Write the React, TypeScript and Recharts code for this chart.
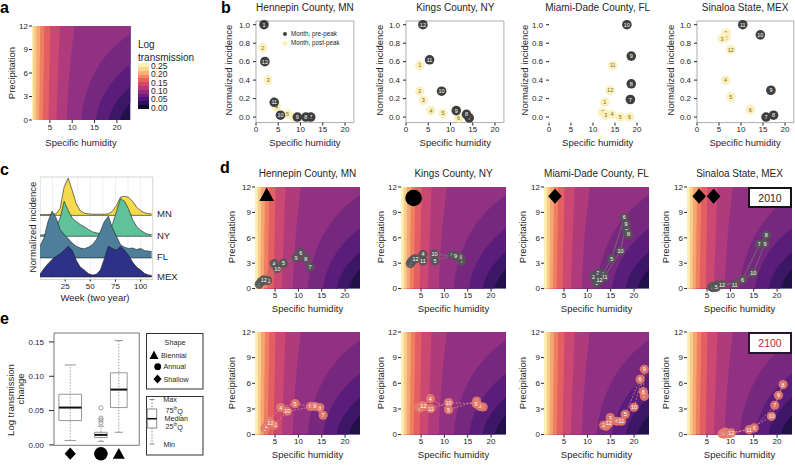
import React from 'react';
import {
  Area,
  CartesianGrid,
  ComposedChart,
  Line,
  ReferenceArea,
  ReferenceLine,
  Scatter,
  ScatterChart,
  XAxis,
  YAxis,
} from 'recharts';

const FONT = "'Liberation Sans', Arial, Helvetica, sans-serif";
const INK = '#262626';

const CONTOUR_P = [0, 1.5, 3, 4.5, 6, 7.5, 9, 10.5, 12];
const C1 = [1.3, 1.3, 1.3, 1.3, 1.3, 1.3, 1.3, 1.3, 1.3];
const C2 = [1.9, 1.9, 1.9, 1.95, 1.95, 2.0, 2.0, 2.0, 2.0];
const C3 = [2.6, 2.6, 2.65, 2.7, 2.7, 2.75, 2.8, 2.8, 2.85];
const C4 = [3.4, 3.45, 3.5, 3.55, 3.6, 3.65, 3.7, 3.7, 3.75];
const C5 = [4.7, 4.75, 4.8, 4.85, 4.9, 4.95, 5.0, 5.05, 5.1];
const C6 = [6.5, 6.55, 6.65, 6.75, 6.85, 6.95, 7.05, 7.15, 7.25];
const C7 = [8.8, 8.9, 9.0, 9.2, 9.4, 9.6, 9.9, 10.2, 10.5];
const C8 = [12.0, 12.3, 12.9, 13.8, 15.0, 16.6, 18.8, 21.8, 26];
const C9 = [15.3, 15.8, 16.9, 18.5, 20.8, 24, 28, 33, 39];
const C10 = [18.2, 19.0, 20.8, 23.5, 27, 32, 38, 45, 52];
const C11 = [20.7, 22.0, 24.5, 28, 33, 39, 46, 54, 62];
const CONTOURS = [C1, C2, C3, C4, C5, C6, C7, C8, C9, C10, C11];
const BANDS = ['#FCEFB2', '#F9CC8C', '#F6A673', '#F07F5F', '#E35F63', '#CB4872', '#AF3B7C', '#923181', '#76287F', '#5A1E7A', '#3E1668', '#221048'];
const CONTOUR_ROWS = CONTOUR_P.map((p, i) => {
  const row: Record<string, number> = { p };
  CONTOURS.forEach((c, k) => (row['c' + k] = c[i]));
  return row;
});

// panel b: [month, specific humidity, normalized incidence, pre-peak?]
const HEN_B = [[1, 1.8, 1.0, 1], [2, 1.5, 0.75, 0], [3, 2.7, 0.4, 0], [4, 4.6, 0.11, 0], [5, 7.1, 0.03, 0], [6, 8.6, 0.0, 0], [7, 12.3, 0.0, 1], [8, 11.2, 0.0, 1], [9, 9.3, 0.0, 1], [10, 5.5, 0.02, 1], [11, 4.1, 0.16, 1], [12, 2.0, 0.6, 1]];
const KIN_B = [[1, 3.1, 0.56, 0], [2, 3.1, 0.28, 0], [3, 3.9, 0.18, 0], [4, 5.6, 0.07, 0], [5, 8.3, 0.04, 0], [6, 11.8, -0.01, 0], [7, 14.2, -0.01, 1], [8, 13.6, 0.03, 1], [9, 11.3, 0.07, 1], [10, 8.0, 0.28, 1], [11, 5.3, 0.62, 1], [12, 3.8, 1.0, 1]];
const MIA_B = [[1, 12.7, 0.16, 0], [2, 12.2, 0.05, 0], [3, 12.9, 0.02, 0], [4, 14.3, 0.03, 0], [5, 16.2, 0.0, 0], [6, 18.3, 0.0, 0], [7, 18.5, 0.19, 1], [8, 18.7, 0.36, 1], [9, 18.7, 0.66, 1], [10, 17.7, 1.0, 1], [11, 14.5, 0.56, 0], [12, 13.9, 0.29, 0]];
const SIN_B = [[1, 6.6, 0.91, 0], [2, 6.6, 0.86, 0], [3, 5.7, 0.85, 0], [4, 6.5, 0.4, 0], [5, 7.7, 0.22, 0], [6, 12.1, 0.08, 0], [7, 15.7, 0.0, 1], [8, 17.4, 0.02, 1], [9, 16.8, 0.29, 1], [10, 14.4, 0.89, 1], [11, 10.4, 1.0, 1], [12, 7.7, 0.73, 0]];

// panel c: weekly incidence over two years
const WEEKS = [0, 4, 8, 12, 16, 20, 24, 28, 32, 36, 40, 44, 48, 52, 56, 60, 64, 68, 72, 76, 80, 84, 88, 92, 96, 100, 104, 108, 111];
const MN = [0.02, 0.02, 0.02, 0.03, 0.04, 0.18, 0.75, 0.98, 0.66, 0.31, 0.12, 0.06, 0.04, 0.03, 0.03, 0.03, 0.03, 0.04, 0.11, 0.26, 0.48, 0.5, 0.48, 0.37, 0.22, 0.12, 0.07, 0.04, 0.04];
const NY = [0.03, 0.04, 0.07, 0.13, 0.24, 0.48, 0.92, 0.68, 0.48, 0.39, 0.31, 0.25, 0.18, 0.12, 0.09, 0.07, 0.09, 0.13, 0.31, 0.66, 0.99, 0.92, 0.72, 0.44, 0.26, 0.16, 0.09, 0.05, 0.04];
const FL = [0.31, 0.53, 0.96, 1.23, 1.05, 0.75, 0.61, 0.51, 0.39, 0.31, 0.26, 0.24, 0.28, 0.35, 0.48, 0.7, 0.96, 1.1, 0.79, 0.57, 0.35, 0.28, 0.25, 0.26, 0.22, 0.25, 0.19, 0.18, 0.16];
const MEX = [0.07, 0.22, 0.35, 0.46, 0.54, 0.61, 0.7, 0.81, 0.7, 0.44, 0.26, 0.18, 0.09, 0.05, 0.07, 0.18, 0.48, 0.81, 0.75, 0.7, 0.81, 0.7, 0.57, 0.39, 0.26, 0.18, 0.09, 0.05, 0.04];
const RIDGES = [
  { key: 'MN', vals: MN, base: 1.69, color: '#F4DA4C' },
  { key: 'NY', vals: NY, base: 1.14, color: '#5FC29A' },
  { key: 'FL', vals: FL, base: 0.57, color: '#4E7F9A' },
  { key: 'MEX', vals: MEX, base: 0.07, color: '#2D3188' },
];
const RIDGE_ROWS = WEEKS.map((w, i) => {
  const row: Record<string, any> = { w };
  RIDGES.forEach((r) => (row[r.key] = [r.base, r.base + r.vals[i]]));
  return row;
});

// panel d: monthly [specific humidity, precipitation], months 1..12
const HEN_10 = [[1.6, 0.5], [2.0, 0.8], [2.5, 1.0], [4.8, 2.95], [6.8, 3.0], [10.5, 4.25], [12.5, 2.55], [11.6, 3.54], [9.5, 3.66], [5.5, 2.36], [3.4, 0.95], [2.6, 1.0]];
const KIN_10 = [[2.7, 2.95], [3.0, 3.2], [3.3, 3.4], [5.4, 4.05], [8.0, 3.26], [11.7, 4.0], [13.7, 3.26], [13.4, 3.7], [12.4, 3.8], [7.9, 4.1], [5.4, 3.26], [3.8, 3.54]];
const MIA_10 = [[12.0, 0.66], [11.3, 1.4], [12.3, 1.85], [13.3, 1.7], [15.2, 3.54], [17.9, 8.4], [18.4, 6.8], [18.8, 6.4], [18.3, 7.6], [17.1, 4.44], [13.7, 1.4], [12.6, 1.0]];
const SIN_10 = [[7.1, 0.4], [6.5, 0.25], [6.0, 0.2], [6.3, 0.1], [7.0, 0.15], [12.6, 1.06], [16.2, 5.23], [17.7, 6.3], [17.4, 5.3], [14.9, 1.85], [10.9, 0.47], [8.2, 0.47]];
const HEN_21 = [[2.85, 0.7], [3.2, 1.0], [3.7, 1.6], [6.2, 3.16], [9.3, 3.62], [12.6, 3.3], [15.3, 2.26], [14.6, 3.16], [13.5, 3.3], [7.6, 2.72], [4.8, 1.1], [4.0, 1.3]];
const KIN_21 = [[4.5, 3.23], [4.8, 3.1], [5.3, 3.4], [7.0, 4.2], [10.9, 2.92], [16.9, 3.93], [18.3, 3.23], [17.6, 3.3], [16.8, 3.6], [10.9, 3.74], [7.1, 3.04], [5.5, 3.3]];
const MIA_21 = [[14.0, 0.97], [13.5, 1.09], [14.9, 1.99], [16.3, 1.56], [18.1, 2.37], [21.3, 6.47], [22.2, 4.48], [22.0, 5.0], [22.2, 7.64], [20.0, 3.2], [17.3, 1.56], [14.6, 1.3]];
const SIN_21 = [[8.9, 0.3], [8.5, 0.15], [8.2, 0.1], [8.8, 0.05], [9.6, 0.1], [15.1, 0.78], [19.5, 3.43], [21.3, 5.85], [20.3, 4.6], [18.8, 2.14], [14.0, 0.58], [10.2, 0.2]];
const HEN_SHAPE = [{ q: 3.2, p: 11.1, kind: 'triangle' }];
const KIN_SHAPE = [{ q: 3.4, p: 10.7, kind: 'circle' }];
const MIA_SHAPE = [{ q: 3.05, p: 10.9, kind: 'diamond' }];
const SIN_SHAPE = [{ q: 3.3, p: 10.9, kind: 'diamond' }, { q: 6.4, p: 10.9, kind: 'diamond' }];

// panel e: log transmission change by seasonal shape
const E_KIND = ['diamond', 'circle', 'triangle'];
const E_MIN = [0.0063, 0.0053, 0.0184];
const E_Q1 = [0.0354, 0.0107, 0.0544];
const E_MED = [0.0544, 0.0146, 0.0806];
const E_Q3 = [0.0738, 0.0184, 0.105];
const E_MAX = [0.1165, 0.0272, 0.152];
const E_OUT = [0.054, 0.039, 0.036, 0.032];
const E_X = [0.19, 0.55, 0.76];
const E_HALF = [0.133, 0.074, 0.098];

type Rect = { x0: number; x1: number; y0: number; y1: number };
const PAD = 4;
const slot = (r: Rect, yw: number, xh: number) => ({
  left: r.x0 - yw,
  top: r.y0 - PAD,
  width: r.x1 - r.x0 + yw + PAD,
  height: r.y1 - r.y0 + PAD + xh,
});

function T({ x, y, size = 9.5, rot = false, align = 'c', color = INK, bold = false, children }: any) {
  const tx = align === 'c' ? '-50%' : align === 'r' ? '-100%' : '0';
  return (
    <div
      style={{
        position: 'absolute', left: x, top: y, transform: `translate(${tx}, -50%)${rot ? ' rotate(-90deg)' : ''}`,
        fontSize: size, color, fontWeight: bold ? 700 : 400, whiteSpace: 'nowrap', lineHeight: 1,
      }}
    >
      {children}
    </div>
  );
}

function Mark({ cx, cy, kind, s = 1 }: { cx: number; cy: number; kind: string; s?: number }) {
  if (kind === 'triangle') return <path d={`M${cx},${cy - 7 * s} L${cx + 7.3 * s},${cy + 6.3 * s} L${cx - 7.3 * s},${cy + 6.3 * s} Z`} fill="#000" />;
  if (kind === 'circle') return <circle cx={cx} cy={cy} r={8.3 * s} fill="#000" />;
  return <path d={`M${cx},${cy - 7.5 * s} L${cx + 6.8 * s},${cy} L${cx},${cy + 7.5 * s} L${cx - 6.8 * s},${cy} Z`} fill="#000" />;
}

const axisTick = { fontSize: 8, fill: INK };

function Heat({ r, xDomain }: { r: Rect; xDomain: [number, number] }) {
  const s = slot(r, 22, 14);
  return (
    <div style={{ position: 'absolute', left: s.left, top: s.top }}>
      <ComposedChart layout="vertical" width={s.width} height={s.height} data={CONTOUR_ROWS} margin={{ top: PAD, right: PAD, left: 0, bottom: 0 }}>
        <CartesianGrid fill={BANDS[11]} horizontal={false} vertical={false} />
        <XAxis type="number" domain={xDomain} allowDataOverflow ticks={[5, 10, 15, 20]} interval={0} height={14} tickSize={3} tickMargin={1} tickLine={{ stroke: INK }} axisLine={false} tick={axisTick} />
        <YAxis type="number" dataKey="p" reversed domain={[0, 12]} ticks={[0, 3, 6, 9, 12]} interval={0} width={22} tickSize={3} tickMargin={1} tickLine={{ stroke: INK }} axisLine={false} tick={axisTick} />
        {CONTOURS.map((_, i) => CONTOURS.length - 1 - i).map((k) => (
          <Area key={k} dataKey={'c' + k} type="monotone" fill={BANDS[k]} fillOpacity={1} stroke="none" isAnimationActive={false} />
        ))}
      </ComposedChart>
    </div>
  );
}

function Months({ r, xDomain, data, future, shapes }: { r: Rect; xDomain: [number, number]; data: number[][]; future?: boolean; shapes?: any[] }) {
  const s = slot(r, 22, 14);
  const pts = data.map(([q, p], i) => ({ q, p, m: i + 1 }));
  const dot = (props: any) => (
    <g>
      <circle cx={props.cx} cy={props.cy} r={4.6} fill={future ? '#E47C6C' : '#555555'} fillOpacity={0.9} />
      <text x={props.cx} y={props.cy} textAnchor="middle" dominantBaseline="central" fontSize={5.5} fill="#fff">{props.payload.m}</text>
    </g>
  );
  return (
    <div style={{ position: 'absolute', left: s.left, top: s.top }}>
      <ComposedChart width={s.width} height={s.height} margin={{ top: PAD, right: PAD, left: 22, bottom: 14 }}>
        <XAxis type="number" dataKey="q" domain={xDomain} hide />
        <YAxis type="number" dataKey="p" domain={[0, 12]} hide />
        <Line data={pts} dataKey="p" type="linear" stroke={future ? '#F29A86' : '#7A7A7A'} strokeWidth={0.7} strokeDasharray={future ? '2 1.5' : undefined} dot={false} isAnimationActive={false} />
        <Scatter data={pts} dataKey="p" shape={dot} isAnimationActive={false} />
        {shapes ? (
          <Scatter data={shapes} dataKey="p" shape={(p: any) => <Mark cx={p.cx} cy={p.cy} kind={p.payload.kind} />} isAnimationActive={false} />
        ) : null}
      </ComposedChart>
    </div>
  );
}

function Incidence({ r, data, box }: { r: Rect; data: number[][]; box: boolean }) {
  const s = slot(r, 26, 14);
  const pts = data.map(([m, q, inc, pre]) => ({ m, q, inc, pre }));
  const dot = (props: any) => {
    const pre = props.payload.pre === 1;
    return (
      <g>
        <circle cx={props.cx} cy={props.cy} r={4.8} fill={pre ? '#3E3E3E' : '#FAF1BF'} />
        <text x={props.cx} y={props.cy} textAnchor="middle" dominantBaseline="central" fontSize={5.5} fill={pre ? '#fff' : '#7B6B2A'}>{props.payload.m}</text>
      </g>
    );
  };
  return (
    <div style={{ position: 'absolute', left: s.left, top: s.top }}>
      <ScatterChart width={s.width} height={s.height} margin={{ top: PAD, right: PAD, left: 0, bottom: 0 }}>
        <XAxis type="number" dataKey="q" domain={[0, 22]} ticks={[0, 5, 10, 15, 20]} interval={0} height={14} tickSize={3} tickMargin={1} tickLine={{ stroke: INK }} axisLine={false} tick={axisTick} />
        <YAxis type="number" dataKey="inc" domain={[-0.06, 1.04]} ticks={[0, 0.2, 0.4, 0.6, 0.8, 1]} interval={0} tickFormatter={(v: number) => v.toFixed(1)} width={26} tickSize={3} tickMargin={3} tickLine={{ stroke: INK }} axisLine={false} tick={axisTick} />
        {box ? <ReferenceArea x1={0} x2={22} y1={-0.06} y2={1.04} fill="none" stroke="#9A9A9A" strokeWidth={0.8} /> : null}
        <Scatter data={pts} dataKey="inc" shape={dot} isAnimationActive={false} />
      </ScatterChart>
    </div>
  );
}

function Ridges() {
  const r: Rect = { x0: 40, x1: 152.7, y0: 176.7, y1: 279.3 };
  const s = slot(r, 0, 14);
  return (
    <div style={{ position: 'absolute', left: s.left, top: s.top }}>
      <ComposedChart width={s.width} height={s.height} data={RIDGE_ROWS} margin={{ top: PAD, right: PAD, left: 0, bottom: 0 }}>
        <CartesianGrid stroke="#E4E4E4" strokeWidth={0.6} verticalValues={[12.5, 25, 37.5, 50, 62.5, 75, 87.5, 100]} horizontalValues={RIDGES.map((d) => d.base)} />
        <XAxis type="number" dataKey="w" domain={[0, 112]} ticks={[25, 50, 75, 100]} interval={0} height={14} tickSize={2} tickMargin={2} tickLine={{ stroke: INK }} axisLine={false} tick={axisTick} />
        <YAxis type="number" domain={[0, 2.7]} hide />
        <ReferenceArea x1={0} x2={112} y1={0} y2={2.7} fill="none" stroke="#C8C8C8" strokeWidth={0.8} />
        {RIDGES.map((d) => (
          <Area key={d.key} dataKey={d.key} type="linear" fill={d.color} fillOpacity={1} stroke="#1C1C1C" strokeWidth={0.6} isAnimationActive={false} />
        ))}
      </ComposedChart>
    </div>
  );
}

function Boxes() {
  const r: Rect = { x0: 54, x1: 139.3, y0: 333.3, y1: 465 };
  const s = slot(r, 30, 0);
  const outliers = E_OUT.map((y) => ({ x: E_X[1], y }));
  const marks = E_KIND.map((kind, i) => ({ x: E_X[i], y: -0.0128, kind }));
  return (
    <div style={{ position: 'absolute', left: s.left, top: s.top }}>
      <ComposedChart width={s.width} height={s.height} margin={{ top: PAD, right: PAD, left: 0, bottom: 0 }}>
        <XAxis type="number" dataKey="x" domain={[0, 1]} hide />
        <YAxis type="number" dataKey="y" domain={[-0.0288, 0.163]} allowDataOverflow ticks={[0, 0.05, 0.1, 0.15]} interval={0} tickFormatter={(v: number) => v.toFixed(2)} width={30} tickSize={5} tickMargin={5} tickLine={{ stroke: INK }} axisLine={false} tick={axisTick} />
        <ReferenceArea x1={0} x2={1} y1={-0.0006} y2={0.163} fill="none" stroke="#555" strokeWidth={0.8} />
        {E_X.map((x, i) => (
          <ReferenceLine key={'w' + i} segment={[{ x, y: E_MIN[i] }, { x, y: E_MAX[i] }]} stroke="#8A8A8A" strokeDasharray="1.5 1.5" strokeWidth={0.8} />
        ))}
        {E_X.map((x, i) => (
          <ReferenceArea key={'b' + i} x1={x - E_HALF[i]} x2={x + E_HALF[i]} y1={E_Q1[i]} y2={E_Q3[i]} fill="#fff" fillOpacity={1} stroke="#8A8A8A" strokeWidth={0.9} />
        ))}
        {E_X.map((x, i) => (
          <ReferenceLine key={'hi' + i} segment={[{ x: x - E_HALF[i] / 2, y: E_MAX[i] }, { x: x + E_HALF[i] / 2, y: E_MAX[i] }]} stroke="#8A8A8A" strokeWidth={0.9} />
        ))}
        {E_X.map((x, i) => (
          <ReferenceLine key={'lo' + i} segment={[{ x: x - E_HALF[i] / 2, y: E_MIN[i] }, { x: x + E_HALF[i] / 2, y: E_MIN[i] }]} stroke="#8A8A8A" strokeWidth={0.9} />
        ))}
        {E_X.map((x, i) => (
          <ReferenceLine key={'m' + i} segment={[{ x: x - E_HALF[i], y: E_MED[i] }, { x: x + E_HALF[i], y: E_MED[i] }]} stroke="#111" strokeWidth={2} />
        ))}
        <Scatter data={outliers} dataKey="y" shape={(p: any) => <circle cx={p.cx} cy={p.cy} r={2.1} fill="none" stroke="#777" strokeWidth={0.7} />} isAnimationActive={false} />
        <Scatter data={marks} dataKey="y" shape={(p: any) => <Mark cx={p.cx} cy={p.cy} kind={p.payload.kind} s={0.82} />} isAnimationActive={false} />
      </ComposedChart>
    </div>
  );
}

function BoxLegend() {
  const txt = { fontSize: 7.2, fill: INK, dominantBaseline: 'central' as const };
  return (
    <svg style={{ position: 'absolute', left: 146, top: 333 }} width={58} height={123}>
      <rect x={0.5} y={0.5} width={56.5} height={55.5} fill="none" stroke="#333" strokeWidth={1} />
      <text x={29} y={9.7} textAnchor="middle" {...txt}>Shape</text>
      <path d="M8,17.5 L12.5,26 L3.5,26 Z" fill="#000" />
      <text x={15} y={22} {...txt}>Biennial</text>
      <circle cx={11.7} cy={33.7} r={3.4} fill="#000" />
      <text x={17.5} y={33.7} {...txt}>Annual</text>
      <path d="M11.5,41.5 L15.5,46 L11.5,50.5 L7.5,46 Z" fill="#000" />
      <text x={17.5} y={46} {...txt}>Shallow</text>
      <rect x={0.5} y={63.5} width={56.5} height={58.5} fill="none" stroke="#333" strokeWidth={1} />
      <line x1={3.5} x2={8.5} y1={66.5} y2={66.5} stroke="#8A8A8A" />
      <line x1={6} x2={6} y1={66.5} y2={76} stroke="#8A8A8A" strokeDasharray="1.5 1.5" />
      <rect x={1.3} y={76} width={9.4} height={19} fill="#fff" stroke="#8A8A8A" />
      <line x1={1.3} x2={10.7} y1={85.7} y2={85.7} stroke="#111" strokeWidth={1.6} />
      <line x1={6} x2={6} y1={95} y2={111} stroke="#8A8A8A" strokeDasharray="1.5 1.5" />
      <line x1={3.5} x2={8.5} y1={111} y2={111} stroke="#8A8A8A" />
      <text x={17.3} y={66.5} {...txt}>Max</text>
      <text x={19.5} y={77.5} {...txt}>75<tspan fontSize={4.5} dy={-2.5}>th</tspan><tspan dy={2.5}>Q</tspan></text>
      <text x={18.5} y={85.5} {...txt}>Median</text>
      <text x={19.5} y={93.7} {...txt}>25<tspan fontSize={4.5} dy={-2.5}>th</tspan><tspan dy={2.5}>Q</tspan></text>
      <text x={17.5} y={111} {...txt}>Min</text>
    </svg>
  );
}

const CBAR = ['#0B0924', '#2D1160', '#51127C', '#721F81', '#952C80', '#B73779', '#D8456C', '#F1605D', '#FB8761', '#FEB078', '#FDD692', '#FCF0B4'];
const cbarGradient = `linear-gradient(to top, ${CBAR.map((c, i) => `${c} ${(i * 100) / CBAR.length}%, ${c} ${((i + 1) * 100) / CBAR.length}%`).join(', ')})`;

const B_RECTS: Rect[] = [
  { x0: 256, x1: 353.9, y0: 20.6, y1: 122.2 },
  { x0: 406.3, x1: 504.2, y0: 20.6, y1: 122.2 },
  { x0: 549.3, x1: 646.1, y0: 20.6, y1: 122.2 },
  { x0: 696.7, x1: 793.5, y0: 20.6, y1: 122.2 },
];
const B_DATA = [HEN_B, KIN_B, MIA_B, SIN_B];
const TITLES = ['Hennepin County, MN', 'Kings County, NY', 'Miami-Dade County, FL', 'Sinaloa State, MEX'];
const B_YLAB = [229, 380, 525, 671];

const D_X = [[255, 360], [401, 506], [544, 649], [687, 792]];
const D_Y = [[186.7, 288.3], [331.7, 434.3]];
const D_2010 = [HEN_10, KIN_10, MIA_10, SIN_10];
const D_2100 = [HEN_21, KIN_21, MIA_21, SIN_21];
const D_SHAPES = [HEN_SHAPE, KIN_SHAPE, MIA_SHAPE, SIN_SHAPE];
const D_YLAB = [232, 381, 522.5, 666];
const D_DOMAIN: [number, number] = [0.7, 23.2];

export default function App() {
  return (
    <div style={{ position: 'relative', width: 795, height: 468, overflow: 'hidden', background: '#fff', fontFamily: FONT, color: INK }}>
      <style>{'body{margin:0}'}</style>

      {/* a */}
      <T x={0} y={8} size={16} bold align="l" color="#000">a</T>
      <Heat r={{ x0: 32.2, x1: 130.5, y0: 26, y1: 120 }} xDomain={[1, 23]} />
      <T x={12} y={73} rot>Precipitation</T>
      <T x={81} y={143}>Specific humidity</T>
      <T x={138} y={45} size={10} align="l">Log</T>
      <T x={138} y={57.5} size={10} align="l">transmission</T>
      <div style={{ position: 'absolute', left: 138, top: 63, width: 11, height: 46, background: cbarGradient }} />
      {['0.25', '0.20', '0.15', '0.10', '0.05', '0.00'].map((t, i) => (
        <T key={t} x={151} y={66 + i * 8.3} size={8.5} align="l">{t}</T>
      ))}

      {/* b */}
      <T x={221} y={8} size={16} bold align="l" color="#000">b</T>
      {B_RECTS.map((r, i) => (
        <React.Fragment key={'b' + i}>
          <Incidence r={r} data={B_DATA[i]} box={i !== 2} />
          <T x={(r.x0 + r.x1) / 2} y={7.5} size={10}>{TITLES[i]}</T>
          <T x={B_YLAB[i]} y={70} rot>Normalized incidence</T>
          <T x={(r.x0 + r.x1) / 2} y={143}>Specific humidity</T>
        </React.Fragment>
      ))}
      <svg style={{ position: 'absolute', left: 282, top: 30 }} width={10} height={18}>
        <circle cx={3} cy={4} r={2} fill="#3E3E3E" />
        <circle cx={3} cy={13.3} r={2.6} fill="#FAF1BF" />
      </svg>
      <T x={291} y={34} size={6.3} align="l">Month, pre-peak</T>
      <T x={291} y={43.3} size={6.3} align="l">Month, post-peak</T>

      {/* c */}
      <T x={0} y={170} size={16} bold align="l" color="#000">c</T>
      <Ridges />
      <T x={32.5} y={227} rot>Normalized incidence</T>
      <T x={95} y={298}>Week (two year)</T>
      <T x={157} y={214} align="l">MN</T>
      <T x={157} y={236} align="l">NY</T>
      <T x={157} y={257} align="l">FL</T>
      <T x={157} y={277} align="l">MEX</T>

      {/* d */}
      <T x={220} y={168} size={16} bold align="l" color="#000">d</T>
      {D_X.map(([x0, x1], i) => (
        <React.Fragment key={'d' + i}>
          <Heat r={{ x0, x1, y0: D_Y[0][0], y1: D_Y[0][1] }} xDomain={D_DOMAIN} />
          <Months r={{ x0, x1, y0: D_Y[0][0], y1: D_Y[0][1] }} xDomain={D_DOMAIN} data={D_2010[i]} shapes={D_SHAPES[i]} />
          <Heat r={{ x0, x1, y0: D_Y[1][0], y1: D_Y[1][1] }} xDomain={D_DOMAIN} />
          <Months r={{ x0, x1, y0: D_Y[1][0], y1: D_Y[1][1] }} xDomain={D_DOMAIN} data={D_2100[i]} future />
          <T x={(x0 + x1) / 2} y={173.5} size={10}>{TITLES[i]}</T>
          <T x={D_YLAB[i]} y={237} rot>Precipitation</T>
          <T x={D_YLAB[i]} y={383} rot>Precipitation</T>
          <T x={(x0 + x1) / 2} y={309}>Specific humidity</T>
          <T x={(x0 + x1) / 2} y={455}>Specific humidity</T>
        </React.Fragment>
      ))}
      <div style={{ position: 'absolute', left: 748, top: 187, width: 44, height: 21, boxSizing: 'border-box', border: '2px solid #141414', background: '#fff', fontSize: 10.5, display: 'flex', alignItems: 'center', justifyContent: 'center' }}>2010</div>
      <div style={{ position: 'absolute', left: 748, top: 332, width: 44, height: 22, boxSizing: 'border-box', border: '2px solid #2A1530', background: '#fff', fontSize: 10.5, color: '#C0282E', display: 'flex', alignItems: 'center', justifyContent: 'center' }}>2100</div>

      {/* e */}
      <T x={0} y={319} size={16} bold align="l" color="#000">e</T>
      <Boxes />
      <T x={10.5} y={400} rot>Log transmission</T>
      <T x={20.5} y={389} rot>change</T>
      <BoxLegend />
    </div>
  );
}
